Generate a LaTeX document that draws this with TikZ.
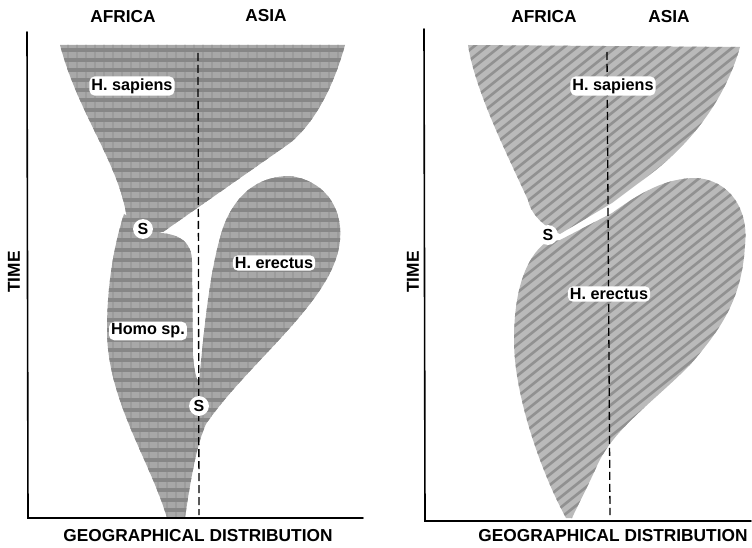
\documentclass[tikz,border=0pt]{standalone}
\usepackage{fontspec}
\setmainfont{Liberation Sans}
\begin{document}
\begin{tikzpicture}[x=1pt,y=-1pt,
  lbl/.style={font=\bfseries\fontsize{16.2}{16}\selectfont, fill=white, rounded corners=5pt, inner sep=2pt},
  ttl/.style={font=\bfseries\fontsize{17.3}{17}\selectfont},
  smark/.style={circle, fill=white, inner sep=1.5pt, font=\bfseries\fontsize{16}{16}\selectfont},
  axisline/.style={line width=1.6pt, line cap=round},
  divline/.style={line width=1.3pt, dash pattern=on 8pt off 4pt},
  baseL/.style={fill=black!34},
  baseR/.style={fill=black!27},
  hatchL/.style={black!47, line width=3.2pt},
  vhatchL/.style={black!39, line width=1.4pt},
  hatchR/.style={black!43, line width=2.6pt}]
\useasboundingbox (0,0) rectangle (752,548);

% ---------- region outlines ----------
\def\sapL{(60,45) -- (345,45) .. controls (332,92) and (312,125) .. (290,143) -- (163,232) -- (128,230) .. controls (125,170) and (80,120) .. (60,45) -- cycle}
\def\lowL{(167,518) .. controls (150,460) and (107,400) .. (107,330) .. controls (107,285) and (114,245) .. (124,214) -- (150,228) -- (162,233) .. controls (180,235) and (192,242) .. (192,262) -- (193,356) .. controls (194,372) and (197,380) .. (199,382) .. controls (204,330) and (210,265) .. (224,225) .. controls (238,190) and (262,176) .. (290,176) .. controls (322,180) and (343,205) .. (340,240) .. controls (335,300) and (250,360) .. (206,424) .. controls (196,445) and (189,490) .. (185,518) -- cycle}
\def\sapR{(468,45) -- (740,47) .. controls (725,100) and (690,145) .. (648,176) -- (612,203) -- (560,234) .. controls (542,226) and (530,212) .. (528,200) .. controls (505,150) and (475,90) .. (468,45) -- cycle}
\def\lowR{(566,518) .. controls (545,480) and (514,400) .. (514,340) .. controls (514,290) and (526,258) .. (545,243) -- (560,240) -- (612,213) .. controls (640,193) and (665,178) .. (696,178) .. controls (730,180) and (749,210) .. (745,245) .. controls (742,300) and (720,330) .. (690,365) .. controls (650,405) and (612,430) .. (596,468) .. controls (586,490) and (578,505) .. (572,518) -- cycle}

% ---------- left panel fills ----------
\fill[baseL] \sapL;
\fill[baseL] \lowL;
\begin{scope}
  \clip \sapL;
  \foreach \xx in {50,59,...,350} \draw[vhatchL] (\xx,40) -- (\xx,530);
  \foreach \yy in {40,50,...,530} \draw[hatchL] (40,\yy) -- (360,\yy);
\end{scope}
\begin{scope}
  \clip \lowL;
  \foreach \xx in {50,59,...,350} \draw[vhatchL] (\xx,40) -- (\xx,530);
  \foreach \yy in {40,50,...,530} \draw[hatchL] (40,\yy) -- (360,\yy);
\end{scope}

% ---------- right panel fills ----------
\fill[baseR] \sapR;
\fill[baseR] \lowR;
\begin{scope}
  \clip \sapR;
  \foreach \xx in {-220,-207,...,760} \draw[hatchR] (\xx,560) -- (\xx+700,0);
\end{scope}
\begin{scope}
  \clip \lowR;
  \foreach \xx in {-220,-207,...,760} \draw[hatchR] (\xx,560) -- (\xx+700,0);
\end{scope}

% ---------- axes ----------
\coordinate (lt) at (27,32);
\coordinate (lo) at (28,518);
\coordinate (lr) at (363,518);
\coordinate (rt) at (424,29);
\coordinate (ro) at (425,521);
\coordinate (rr) at (751,521);
\draw[axisline] (lt) -- (lo) -- (lr);
\draw[axisline] (rt) -- (ro) -- (rr);

% ---------- dividing lines ----------
\coordinate (ldt) at (198,53);
\coordinate (ldb) at (199,515);
\coordinate (rdt) at (607,52);
\coordinate (rdb) at (610,515);
\draw[divline] (ldt) -- (ldb);
\draw[divline] (rdt) -- (rdb);

% ---------- titles ----------
\node[ttl] (afl) at (123,17) {AFRICA};
\node[ttl] (asl) at (266,16) {ASIA};
\node[ttl] (afr) at (544,17) {AFRICA};
\node[ttl] (asr) at (669,17) {ASIA};
\node[ttl, rotate=90] (tl) at (14,272) {TIME};
\node[ttl, rotate=90] (tr) at (413,272) {TIME};
\node[ttl] (gl) at (198,536) {GEOGRAPHICAL DISTRIBUTION};
\node[ttl] (gr) at (613,536) {GEOGRAPHICAL DISTRIBUTION};

% ---------- labels ----------
\node[lbl] (hsl) at (132,86) {H. sapiens};
\node[lbl] (hel) at (274,263) {H. erectus};
\node[lbl] (hom) at (148,331) {Homo sp.};
\node[smark] (s1) at (143,229) {S};
\node[smark] (s2) at (199,406) {S};
\node[lbl] (hsr) at (613,86) {H. sapiens};
\node[lbl] (her) at (609,294) {H. erectus};
\node[smark] (s3) at (548,235) {S};
\end{tikzpicture}
\end{document}
